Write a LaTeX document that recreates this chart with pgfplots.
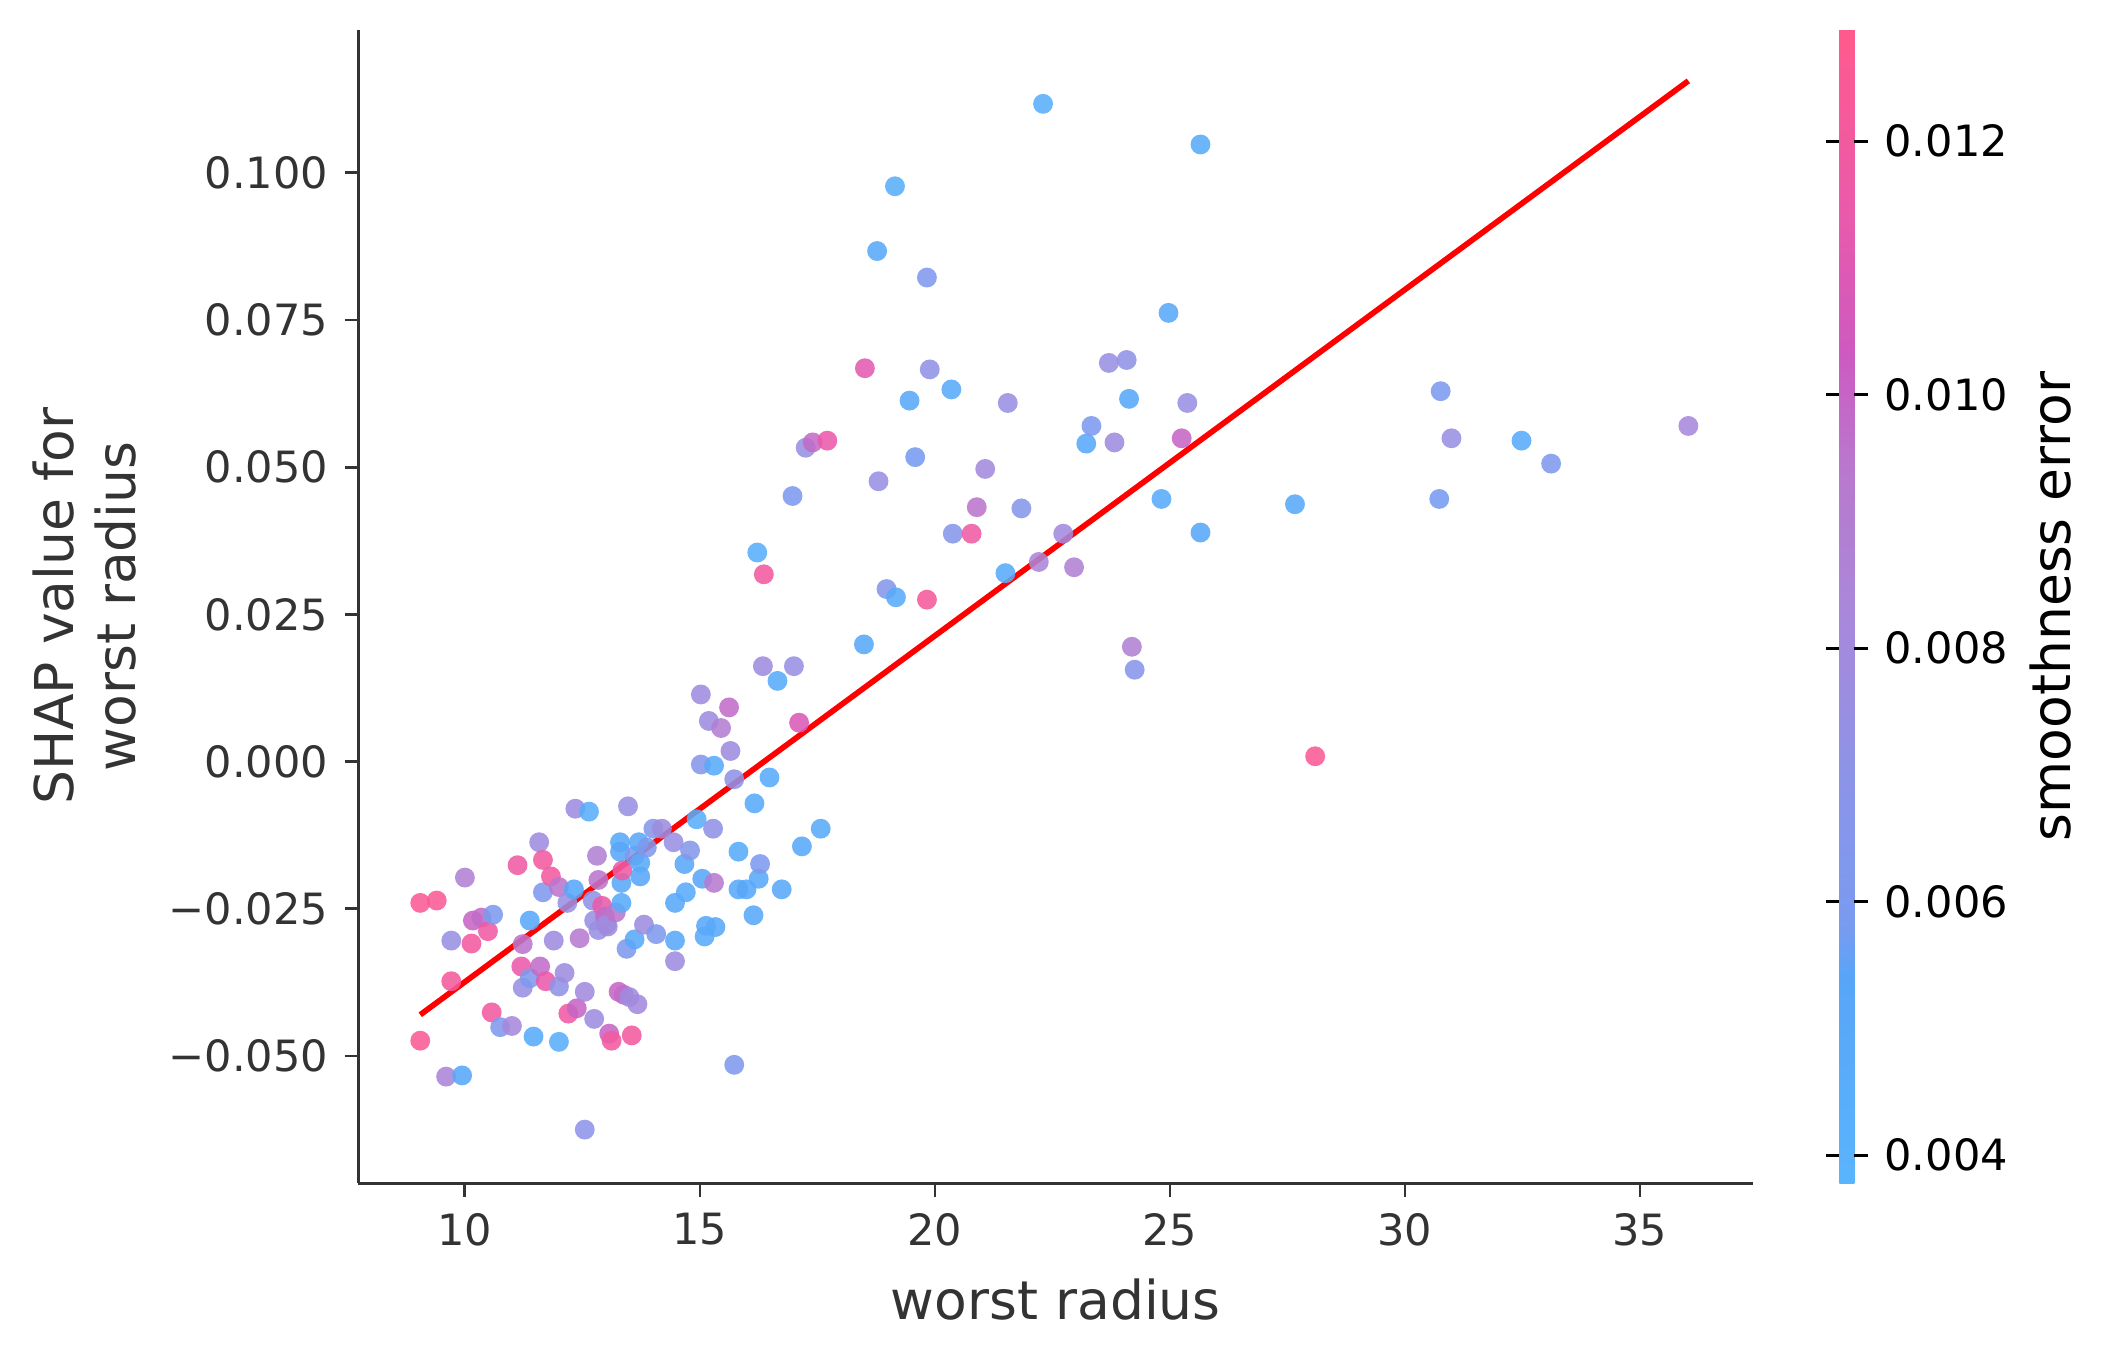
\documentclass[border=0pt]{standalone}
\usepackage{pgfplots}
\pgfplotsset{compat=1.18}
\usepackage{pgfplotstable}
\usepackage{fontspec}
\setmainfont{DejaVu Sans}
\definecolor{c333}{HTML}{333333}
\newcommand{\ticksize}{\fontsize{9.1}{11}\selectfont}
\newcommand{\labsize}{\fontsize{11.3}{13}\selectfont}
\pgfplotstableread{
x y c
9.05 -0.0240 0.0125
9.40 -0.0236 0.0125
9.05 -0.0474 0.0125
9.60 -0.0535 0.0085
9.94 -0.0533 0.0052
9.71 -0.0304 0.0075
10.00 -0.0197 0.0088
9.71 -0.0373 0.0122
10.17 -0.0270 0.0100
10.35 -0.0265 0.0098
10.49 -0.0288 0.0118
10.14 -0.0309 0.0120
10.60 -0.0260 0.0060
10.57 -0.0426 0.0120
10.75 -0.0451 0.0062
11.00 -0.0449 0.0082
11.12 -0.0176 0.0118
11.23 -0.0310 0.0095
11.20 -0.0348 0.0115
11.23 -0.0384 0.0075
11.38 -0.0270 0.0050
11.38 -0.0368 0.0062
11.46 -0.0467 0.0048
11.58 -0.0137 0.0078
11.66 -0.0167 0.0120
11.66 -0.0222 0.0062
11.60 -0.0348 0.0098
11.72 -0.0373 0.0115
11.83 -0.0195 0.0120
11.89 -0.0304 0.0078
12.00 -0.0213 0.0095
12.00 -0.0382 0.0072
12.00 -0.0476 0.0045
12.12 -0.0359 0.0078
12.18 -0.0240 0.0075
12.20 -0.0428 0.0118
12.32 -0.0217 0.0052
12.35 -0.0080 0.0078
12.38 -0.0419 0.0100
12.44 -0.0300 0.0092
12.55 -0.0391 0.0080
12.64 -0.0085 0.0045
12.55 -0.0625 0.0070
12.72 -0.0236 0.0072
12.75 -0.0270 0.0075
12.75 -0.0437 0.0078
12.81 -0.0160 0.0088
12.84 -0.0201 0.0095
12.84 -0.0286 0.0075
12.92 -0.0245 0.0115
12.98 -0.0263 0.0098
13.01 -0.0277 0.0075
13.04 -0.0280 0.0080
13.07 -0.0462 0.0100
13.12 -0.0474 0.0120
13.21 -0.0256 0.0095
13.27 -0.0391 0.0100
13.30 -0.0137 0.0050
13.30 -0.0153 0.0052
13.33 -0.0206 0.0050
13.33 -0.0240 0.0048
13.35 -0.0185 0.0118
13.38 -0.0396 0.0098
13.47 -0.0076 0.0075
13.44 -0.0318 0.0062
13.50 -0.0400 0.0078
13.55 -0.0465 0.0120
13.61 -0.0302 0.0050
13.61 -0.0160 0.0060
13.67 -0.0412 0.0080
13.70 -0.0137 0.0050
13.73 -0.0195 0.0052
13.73 -0.0172 0.0048
13.81 -0.0277 0.0078
13.87 -0.0146 0.0062
14.01 -0.0114 0.0065
14.07 -0.0293 0.0062
14.19 -0.0114 0.0078
14.44 -0.0137 0.0075
14.47 -0.0240 0.0050
14.47 -0.0304 0.0050
14.47 -0.0339 0.0078
14.67 -0.0174 0.0050
14.70 -0.0222 0.0048
14.79 -0.0151 0.0065
14.93 -0.0098 0.0045
15.02 -0.0005 0.0065
15.02 0.0114 0.0078
15.05 -0.0199 0.0052
15.10 -0.0297 0.0048
15.13 -0.0279 0.0050
15.19 0.0069 0.0078
15.28 -0.0114 0.0072
15.30 -0.0007 0.0048
15.30 -0.0206 0.0092
15.33 -0.0281 0.0050
15.45 0.0057 0.0090
15.62 0.0092 0.0098
15.65 0.0018 0.0078
15.73 -0.0030 0.0072
15.73 -0.0515 0.0062
15.82 -0.0153 0.0048
15.82 -0.0217 0.0050
15.99 -0.0217 0.0052
16.14 -0.0261 0.0050
16.16 -0.0071 0.0048
16.25 -0.0199 0.0050
16.28 -0.0174 0.0060
16.22 0.0355 0.0045
16.34 0.0162 0.0078
16.36 0.0318 0.0120
16.48 -0.0027 0.0048
16.65 0.0137 0.0048
16.74 -0.0217 0.0050
16.97 0.0451 0.0060
17.00 0.0162 0.0075
17.11 0.0066 0.0108
17.17 -0.0144 0.0050
17.25 0.0533 0.0075
17.40 0.0542 0.0098
17.57 -0.0114 0.0048
17.71 0.0545 0.0115
18.49 0.0199 0.0050
18.51 0.0668 0.0112
18.77 0.0867 0.0050
18.80 0.0476 0.0075
18.97 0.0293 0.0065
19.15 0.0977 0.0045
19.17 0.0279 0.0048
19.46 0.0613 0.0050
19.58 0.0517 0.0058
19.83 0.0275 0.0122
19.83 0.0822 0.0062
19.89 0.0666 0.0072
20.35 0.0632 0.0048
20.38 0.0387 0.0066
20.78 0.0387 0.0118
20.89 0.0432 0.0095
21.07 0.0497 0.0080
21.50 0.0320 0.0048
21.55 0.0609 0.0075
21.84 0.0430 0.0065
22.21 0.0339 0.0085
22.30 0.1117 0.0045
22.73 0.0387 0.0080
22.96 0.0330 0.0088
23.22 0.0540 0.0050
23.33 0.0570 0.0060
23.70 0.0677 0.0075
23.82 0.0542 0.0078
24.08 0.0682 0.0072
24.13 0.0616 0.0052
24.19 0.0195 0.0088
24.25 0.0156 0.0068
24.82 0.0446 0.0048
24.97 0.0762 0.0050
25.25 0.0549 0.0100
25.37 0.0609 0.0075
25.65 0.1048 0.0048
25.65 0.0389 0.0052
27.66 0.0437 0.0050
28.09 0.0009 0.0125
30.73 0.0446 0.0058
30.76 0.0629 0.0060
30.99 0.0549 0.0075
32.48 0.0545 0.0048
33.11 0.0506 0.0062
36.03 0.0570 0.0082
}\shapdata
\begin{document}
\begin{tikzpicture}
\useasboundingbox (0,0) rectangle (15.68,10.07);
\begin{axis}[
  at={(2.66cm,1.29cm)}, anchor=south west,
  scale only axis, width=10.35cm, height=8.56cm,
  xmin=7.735, xmax=37.41, ymin=-0.0716, ymax=0.1243,
  axis x line*=bottom, axis y line*=left,
  axis line style={c333, line width=0.6pt},
  tick align=outside, major tick length=1mm,
  tick style={c333, line width=0.6pt},
  xtick={10,15,20,25,30,35},
  xticklabels={10,15,20,25,30,35},
  ytick={-0.05,-0.025,0,0.025,0.05,0.075,0.1},
  yticklabels={−0.050,−0.025,0.000,0.025,0.050,0.075,0.100},
  ticklabel style={font=\ticksize, text=c333},
  xlabel={worst radius},
  ylabel={SHAP value for\\worst radius},
  label style={font=\labsize, text=c333, align=center},
  colormap={shapcm}{rgb255(0cm)=(90,180,252); rgb255(18cm)=(88,165,248); rgb255(22cm)=(120,155,240); rgb255(35cm)=(140,148,232); rgb255(50cm)=(170,135,218); rgb255(62cm)=(185,120,205); rgb255(72cm)=(205,90,192); rgb255(85cm)=(235,90,170); rgb255(100cm)=(255,90,140)},
  point meta min=0.00378, point meta max=0.01288,
  colorbar,
  colorbar style={
    at={(parent axis.south east)}, anchor=south west, xshift=0.34cm,
    scale only axis, width=0.11cm, height=8.56cm,
    axis line style={draw=none},
    xtick=\empty,
    ytick={0.004,0.006,0.008,0.010,0.012},
    yticklabels={0.004,0.006,0.008,0.010,0.012},
    tick align=outside, major tick length=1mm,
    ytick style={black, line width=0.6pt},
    yticklabel style={font=\ticksize, text=black},
    ylabel={smoothness error},
    ylabel style={font=\labsize, text=black},
    ylabel shift=-0.08cm,
  },
]
\addplot[scatter, only marks, scatter src=explicit, mark=*, mark size=2.1pt,
  scatter/use mapped color={draw opacity=0, fill=mapped color, fill opacity=0.88}]
  table[x=x, y=y, meta=c] {\shapdata};
\addplot[red, line width=1.2pt] coordinates {(9.05,-0.0430) (36.03,0.1156)};
\end{axis}
\end{tikzpicture}
\end{document}
